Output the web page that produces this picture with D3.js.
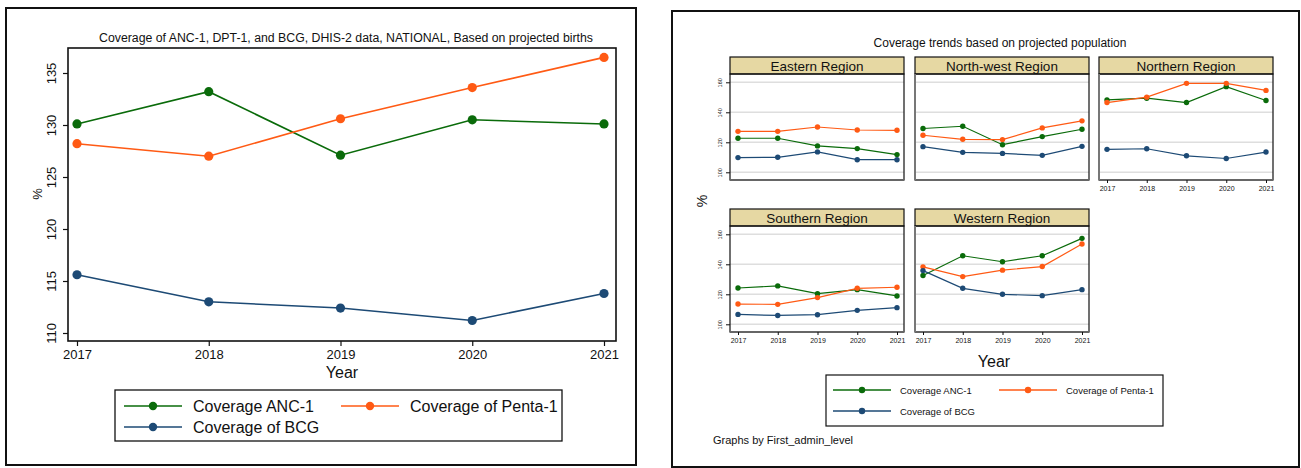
<!DOCTYPE html>
<html><head><meta charset="utf-8">
<script src="https://cdn.jsdelivr.net/npm/d3@7"></script>
<style>body{margin:0;background:#fff}svg{display:block}text{font-family:"Liberation Sans",Arial,sans-serif;fill:#111}</style>
</head><body>
<script>
// ---------- data ----------
const years = [2017, 2018, 2019, 2020, 2021];
const seriesNames = ["Coverage ANC-1", "Coverage of Penta-1", "Coverage of BCG"];
const seriesColors = ["#0a6b0a", "#ff5a14", "#1d4a75"];

// National (left chart)
const nationalANC   = [130.1, 133.2, 127.1, 130.5, 130.1];
const nationalPenta = [128.2, 127.0, 130.6, 133.6, 136.5];
const nationalBCG   = [115.6, 113.0, 112.4, 111.2, 113.8];
const nationalYTicks = [110, 115, 120, 125, 130, 135];

// Regional (right chart)
const regions = ["Eastern Region", "North-west Region", "Northern Region", "Southern Region", "Western Region"];
const regionANC = [
  [122.7, 122.7, 117.6, 115.8, 111.8],
  [129.2, 130.7, 118.4, 123.8, 128.7],
  [148.3, 149.4, 146.5, 157.1, 147.9],
  [124.2, 125.6, 120.4, 123.1, 118.9],
  [132.5, 145.7, 141.7, 145.7, 157.3]
];
const regionPenta = [
  [127.3, 127.3, 130.2, 128.2, 128.0],
  [124.7, 122.0, 121.8, 129.6, 134.3],
  [146.5, 150.1, 159.3, 159.3, 154.6],
  [113.5, 113.3, 117.8, 124.0, 124.7],
  [138.3, 131.8, 136.1, 138.5, 153.5]
];
const regionBCG = [
  [109.8, 110.0, 113.6, 108.4, 108.4],
  [117.1, 113.3, 112.6, 111.3, 117.3],
  [115.3, 115.7, 111.0, 109.2, 113.5],
  [106.6, 105.9, 106.4, 109.3, 111.1],
  [135.8, 124.0, 120.0, 119.1, 123.1]
];
const regionYTicks = [100, 120, 140, 160];

// ---------- drawing ----------
const W = 1301, H = 468;
const svg = d3.select("body").append("svg").attr("width", W).attr("height", H);
svg.append("rect").attr("width", W).attr("height", H).attr("fill", "#fff");

// outer frames
svg.append("rect").attr("x", 6).attr("y", 8).attr("width", 630).attr("height", 457)
  .attr("fill", "none").attr("stroke", "#111").attr("stroke-width", 2);
svg.append("rect").attr("x", 672).attr("y", 11).attr("width", 627).attr("height", 456)
  .attr("fill", "none").attr("stroke", "#111").attr("stroke-width", 2);

// ===== LEFT CHART =====
{
  const pl = 68, pr = 616, pt = 48, pb = 341;
  const x = d3.scaleLinear().domain([2017, 2021]).range([77, 604]);
  const y = d3.scaleLinear().domain([110, 135]).range([333, 73]);
  const g = svg.append("g");

  g.append("text").attr("x", 346).attr("y", 42).attr("text-anchor", "middle")
    .attr("font-size", 12.3).text("Coverage of ANC-1, DPT-1, and BCG, DHIS-2 data, NATIONAL, Based on projected births");

  const series = [nationalANC, nationalPenta, nationalBCG];
  const line = d3.line().x((d, i) => x(years[i])).y(d => y(d));
  series.forEach((s, k) => {
    g.append("path").attr("d", line(s)).attr("fill", "none")
      .attr("stroke", seriesColors[k]).attr("stroke-width", 1.6);
    g.selectAll(null).data(s).enter().append("circle")
      .attr("cx", (d, i) => x(years[i])).attr("cy", d => y(d)).attr("r", 4.6)
      .attr("fill", seriesColors[k]);
  });

  g.append("rect").attr("x", pl).attr("y", pt).attr("width", pr - pl).attr("height", pb - pt)
    .attr("fill", "none").attr("stroke", "#111").attr("stroke-width", 1.6);

  // y axis
  const ya = g.append("g").attr("transform", `translate(${pl},0)`)
    .call(d3.axisLeft(y).tickValues(nationalYTicks).tickSize(5).tickFormat(d3.format("d")));
  ya.select(".domain").remove();
  ya.selectAll("line").attr("stroke", "#111").attr("stroke-width", 1.2);
  ya.selectAll("text").attr("font-size", 13).attr("fill", "#111")
    .attr("x", 0).attr("y", 0).attr("dy", null).attr("text-anchor", "middle")
    .attr("dominant-baseline", "central")
    .attr("transform", "translate(-17,0) rotate(-90)");

  // x axis
  const xa = g.append("g").attr("transform", `translate(0,${pb})`)
    .call(d3.axisBottom(x).tickValues(years).tickSize(5).tickFormat(d3.format("d")));
  xa.select(".domain").remove();
  xa.selectAll("line").attr("stroke", "#111").attr("stroke-width", 1.2);
  xa.selectAll("text").attr("font-size", 13).attr("fill", "#111").attr("y", 9).attr("dy", "0.71em");

  g.append("text").attr("x", 342).attr("y", 378).attr("text-anchor", "middle")
    .attr("font-size", 16).text("Year");
  g.append("text").attr("transform", "translate(42,194) rotate(-90)").attr("text-anchor", "middle")
    .attr("font-size", 13).text("%");

  // legend
  g.append("rect").attr("x", 115).attr("y", 390).attr("width", 447).attr("height", 51)
    .attr("fill", "#fff").attr("stroke", "#111").attr("stroke-width", 1.3);
  const lpos = [[124, 406], [341, 406], [124, 427]];
  seriesNames.forEach((n, k) => {
    const [lx, ly] = lpos[k];
    g.append("line").attr("x1", lx).attr("x2", lx + 58).attr("y1", ly).attr("y2", ly)
      .attr("stroke", seriesColors[k]).attr("stroke-width", 1.6);
    g.append("circle").attr("cx", lx + 29).attr("cy", ly).attr("r", 4.2).attr("fill", seriesColors[k]);
    g.append("text").attr("x", lx + 69).attr("y", ly).attr("dominant-baseline", "central")
      .attr("font-size", 16).text(n);
  });
}

// ===== RIGHT CHART =====
{
  const g = svg.append("g");
  g.append("text").attr("x", 1000).attr("y", 47).attr("text-anchor", "middle")
    .attr("font-size", 12).text("Coverage trends based on projected population");

  const colX = [730, 915, 1099];
  const rowY = [57, 209];
  const pw = 174, hh = 17, ph = 106;
  const layout = [[0, 0], [0, 1], [0, 2], [1, 0], [1, 1]];

  regions.forEach((name, r) => {
    const [row, col] = layout[r];
    const left = colX[col], top = rowY[row];
    const ptop = top + hh, pbot = ptop + ph;
    const x = d3.scaleLinear().domain([2017, 2021]).range([left + 8, left + pw - 7]);
    const y = d3.scaleLinear().domain([100, 160]).range([ptop + 98.3, ptop + 8.3]);
    const pg = g.append("g");

    // header strip
    pg.append("rect").attr("x", left).attr("y", top).attr("width", pw).attr("height", hh)
      .attr("fill", "#e6d8a3").attr("stroke", "#111").attr("stroke-width", 1.2);
    pg.append("text").attr("x", left + pw / 2).attr("y", top + hh / 2 + 0.5)
      .attr("text-anchor", "middle").attr("dominant-baseline", "central")
      .attr("font-size", 13.5).text(name);

    // grid
    pg.selectAll(null).data(regionYTicks).enter().append("line")
      .attr("x1", left).attr("x2", left + pw).attr("y1", d => y(d)).attr("y2", d => y(d))
      .attr("stroke", "#dedede").attr("stroke-width", 1.5);

    // series
    const series = [regionANC[r], regionPenta[r], regionBCG[r]];
    const line = d3.line().x((d, i) => x(years[i])).y(d => y(d));
    series.forEach((s, k) => {
      pg.append("path").attr("d", line(s)).attr("fill", "none")
        .attr("stroke", seriesColors[k]).attr("stroke-width", 1.2);
      pg.selectAll(null).data(s).enter().append("circle")
        .attr("cx", (d, i) => x(years[i])).attr("cy", d => y(d)).attr("r", 2.7)
        .attr("fill", seriesColors[k]);
    });

    // border
    pg.append("rect").attr("x", left).attr("y", ptop).attr("width", pw).attr("height", ph)
      .attr("fill", "none").attr("stroke", "#111").attr("stroke-width", 1.2);
    pg.append("line").attr("x1", left).attr("x2", left + pw).attr("y1", pbot).attr("y2", pbot)
      .attr("stroke", "#666").attr("stroke-width", 1.8);
    if (col !== 0) {
      pg.append("line").attr("x1", left).attr("x2", left).attr("y1", ptop).attr("y2", pbot)
        .attr("stroke", "#777").attr("stroke-width", 2);
    }

    // y axis on first column
    if (col === 0) {
      const ya = pg.append("g").attr("transform", `translate(${left},0)`)
        .call(d3.axisLeft(y).tickValues(regionYTicks).tickSize(4).tickFormat(d3.format("d")));
      ya.select(".domain").remove();
      ya.selectAll("line").attr("stroke", "#111").attr("stroke-width", 1);
      ya.selectAll("text").attr("font-size", 5.5).attr("fill", "#333")
        .attr("x", 0).attr("y", 0).attr("dy", null).attr("text-anchor", "middle")
        .attr("dominant-baseline", "central")
        .attr("transform", "translate(-10,0) rotate(-90)");
    }
    // x axis on bottom panels
    if (row === 1 || col === 2) {
      const xa = pg.append("g").attr("transform", `translate(0,${pbot})`)
        .call(d3.axisBottom(x).tickValues(years).tickSize(3).tickFormat(d3.format("d")));
      xa.select(".domain").remove();
      xa.selectAll("line").attr("stroke", "#111").attr("stroke-width", 1);
      xa.selectAll("text").attr("font-size", 7).attr("fill", "#222").attr("y", 6).attr("dy", "0.71em");
    }
  });

  g.append("text").attr("x", 994).attr("y", 367).attr("text-anchor", "middle")
    .attr("font-size", 16).text("Year");
  g.append("text").attr("transform", "translate(707,201) rotate(-90)").attr("text-anchor", "middle")
    .attr("font-size", 14).text("%");

  // legend
  g.append("rect").attr("x", 826).attr("y", 375).attr("width", 337).attr("height", 51)
    .attr("fill", "#fff").attr("stroke", "#111").attr("stroke-width", 1.2);
  const lpos = [[833, 390], [999, 390], [833, 411]];
  seriesNames.forEach((n, k) => {
    const [lx, ly] = lpos[k];
    g.append("line").attr("x1", lx).attr("x2", lx + 58).attr("y1", ly).attr("y2", ly)
      .attr("stroke", seriesColors[k]).attr("stroke-width", 1.4);
    g.append("circle").attr("cx", lx + 29).attr("cy", ly).attr("r", 3.2).attr("fill", seriesColors[k]);
    g.append("text").attr("x", lx + 67).attr("y", ly).attr("dominant-baseline", "central")
      .attr("font-size", 9.5).text(n);
  });

  g.append("text").attr("x", 713).attr("y", 444).attr("font-size", 11).text("Graphs by First_admin_level");
}
</script>
</body></html>
